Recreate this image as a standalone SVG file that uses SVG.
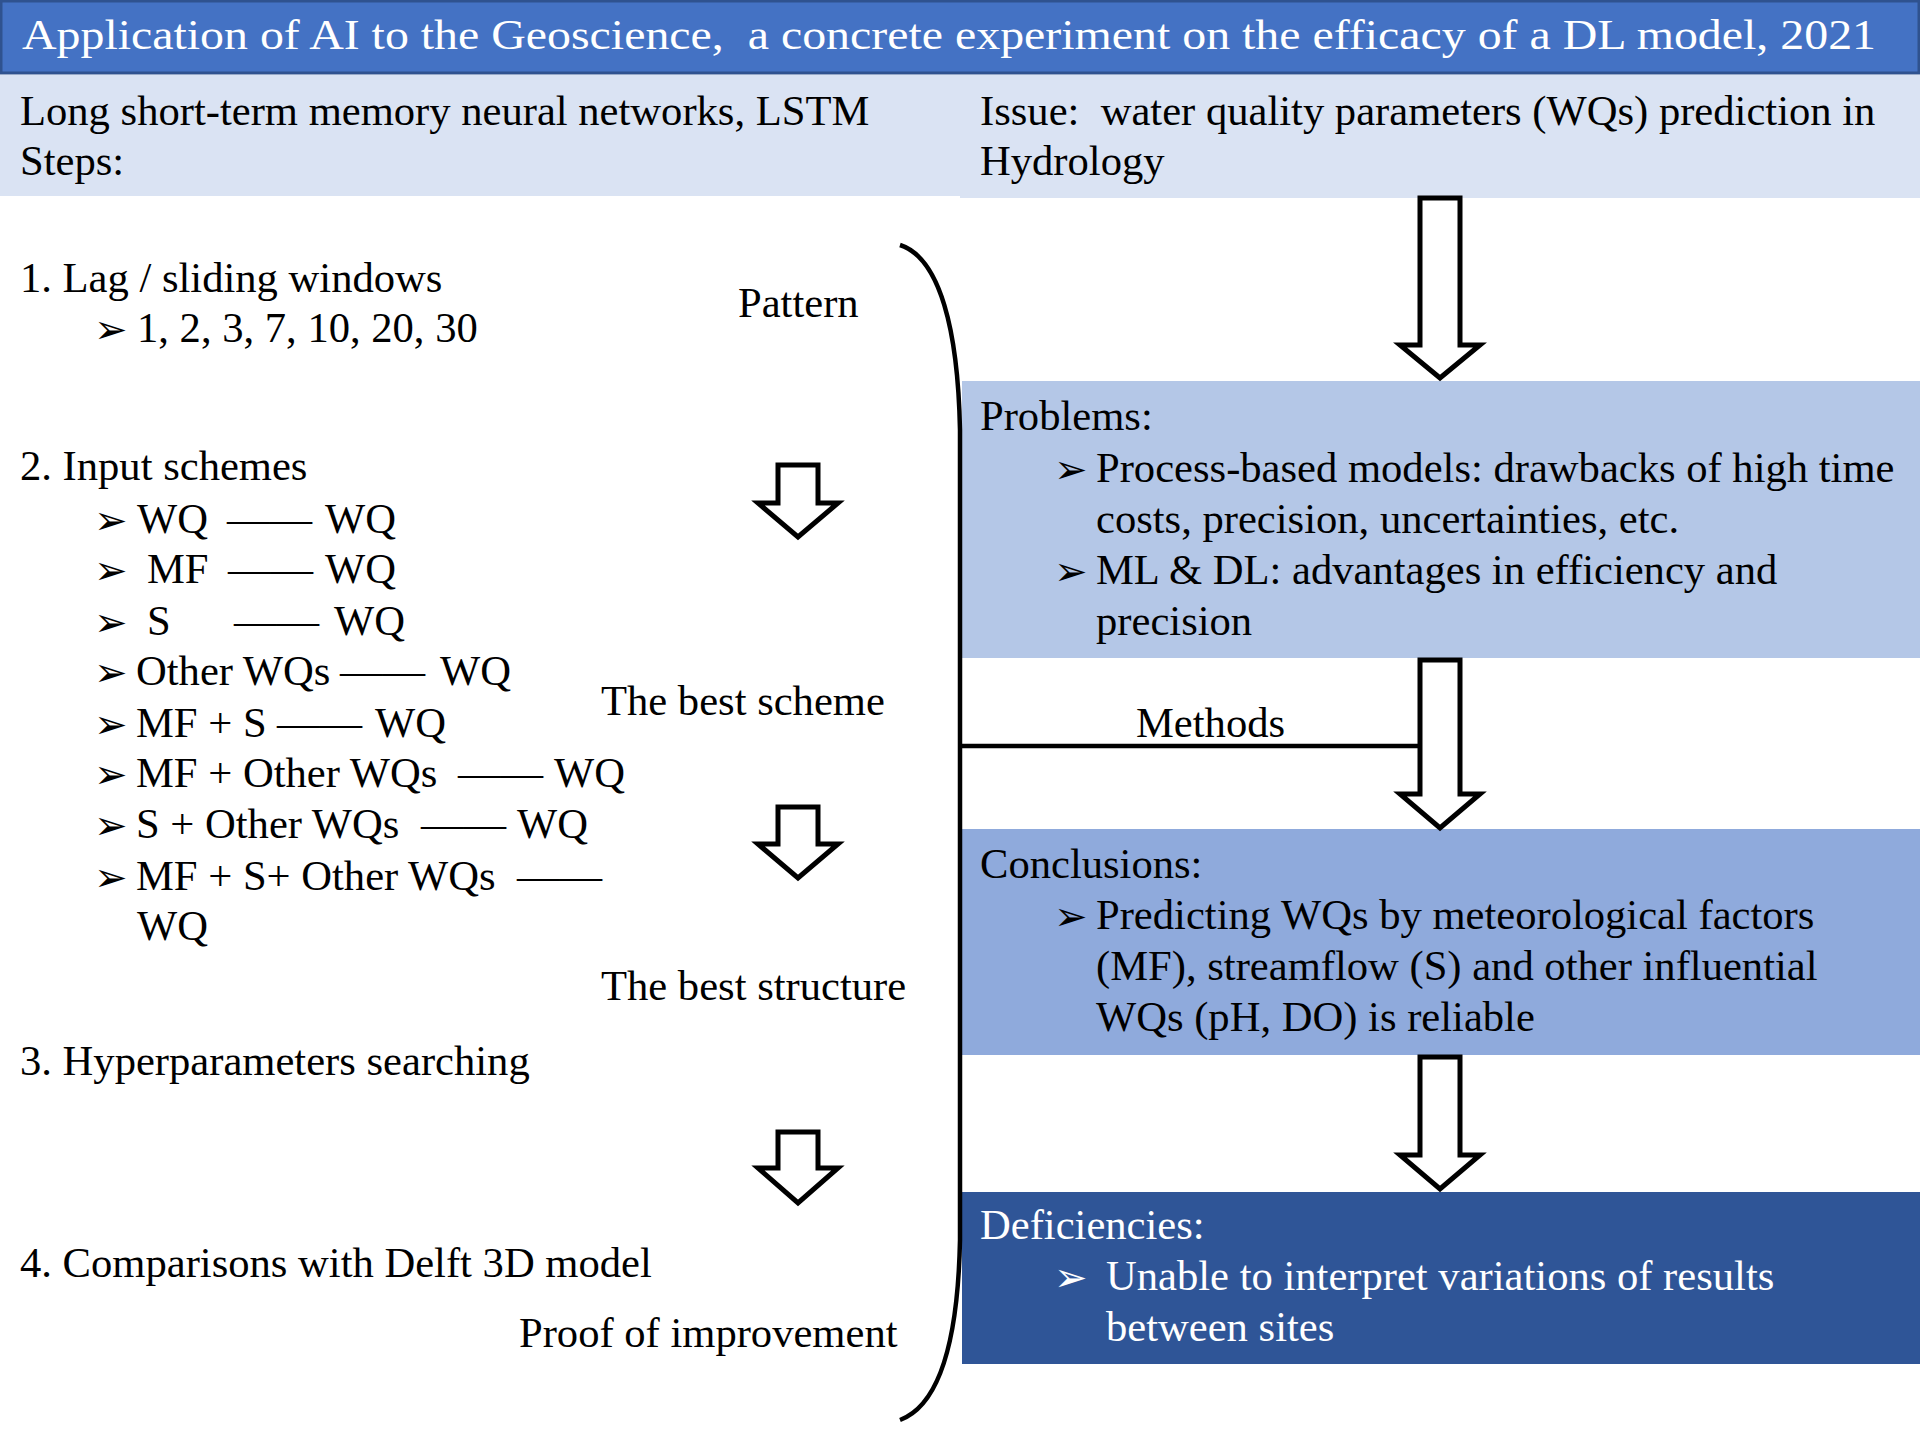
<svg xmlns="http://www.w3.org/2000/svg" width="1920" height="1440" viewBox="0 0 1920 1440">
<style>
.t{font-family:"Liberation Serif","Times New Roman",serif;font-size:42.6px;fill:#000}
.w{fill:#fff}
.b{font-family:"DejaVu Sans",sans-serif;font-size:40px;fill:#000}
.bw{fill:#fff}
.arr{fill:#fff;stroke:#000;stroke-width:5;stroke-linejoin:miter}
.ln{fill:none;stroke:#000;stroke-width:4.5}
</style>
<rect x="0" y="0" width="1920" height="1440" fill="#fff"/>
<g id="title">
<rect x="1" y="1" width="1918" height="72" fill="#4472C4" stroke="#2F528F" stroke-width="3"/>
<text class="t w" x="22" y="49" xml:space="preserve" textLength="1854" lengthAdjust="spacingAndGlyphs">Application of AI to the Geoscience,  a concrete experiment on the efficacy of a DL model, 2021</text>
</g>
<g id="method-header">
<rect x="0" y="75" width="960" height="121" fill="#DAE3F3"/>
<text class="t" x="20" y="125">Long short-term memory neural networks, LSTM</text>
<text class="t" x="20" y="175">Steps:</text>
</g>
<g id="issue">
<rect x="960" y="75" width="960" height="123" fill="#DAE3F3"/>
<text class="t" x="980" y="125" xml:space="preserve">Issue:  water quality parameters (WQs) prediction in</text>
<text class="t" x="980" y="175">Hydrology</text>
</g>
<g id="step1">
<text class="t" x="20" y="292">1. Lag / sliding windows</text>
<text class="b" x="94" y="343">➢</text>
<text class="t" x="137" y="342">1, 2, 3, 7, 10, 20, 30</text>
</g>
<g id="step2">
<text class="t" x="20" y="480">2. Input schemes</text>
<text class="b" x="94" y="534">➢</text><text class="t" y="533"><tspan x="137">WQ</tspan><tspan x="227">——</tspan><tspan x="325">WQ</tspan></text>
<text class="b" x="94" y="584">➢</text><text class="t" y="583"><tspan x="147">MF</tspan><tspan x="228">——</tspan><tspan x="325">WQ</tspan></text>
<text class="b" x="94" y="636">➢</text><text class="t" y="635"><tspan x="147">S</tspan><tspan x="234">——</tspan><tspan x="334">WQ</tspan></text>
<text class="b" x="94" y="686">➢</text><text class="t" y="685"><tspan x="136">Other WQs</tspan><tspan x="340">——</tspan><tspan x="440">WQ</tspan></text>
<text class="b" x="94" y="738">➢</text><text class="t" y="737"><tspan x="136">MF + S</tspan><tspan x="277">——</tspan><tspan x="375">WQ</tspan></text>
<text class="b" x="94" y="788">➢</text><text class="t" y="787"><tspan x="136">MF + Other WQs</tspan><tspan x="458">——</tspan><tspan x="554">WQ</tspan></text>
<text class="b" x="94" y="839">➢</text><text class="t" y="838"><tspan x="136">S + Other WQs</tspan><tspan x="421">——</tspan><tspan x="517">WQ</tspan></text>
<text class="b" x="94" y="891">➢</text><text class="t" y="890"><tspan x="136">MF + S+ Other WQs</tspan><tspan x="517">——</tspan></text>
<text class="t" x="137" y="940">WQ</text>
</g>
<g id="step3">
<text class="t" x="20" y="1075">3. Hyperparameters searching</text>
</g>
<g id="step4">
<text class="t" x="20" y="1277">4. Comparisons with Delft 3D model</text>
</g>
<g id="labels">
<text class="t" x="738" y="317">Pattern</text>
<text class="t" x="601" y="715">The best scheme</text>
<text class="t" x="601" y="1000">The best structure</text>
<text class="t" x="519" y="1347">Proof of improvement</text>
<text class="t" x="1136" y="737">Methods</text>
</g>
<g id="problems">
<rect x="962" y="381" width="958" height="277" fill="#B4C7E7"/>
<text class="t" x="980" y="430">Problems:</text>
<text class="b" x="1054" y="483">➢</text>
<text class="t" x="1096" y="482">Process-based models: drawbacks of high time</text>
<text class="t" x="1096" y="533">costs, precision, uncertainties, etc.</text>
<text class="b" x="1054" y="585">➢</text>
<text class="t" x="1096" y="584">ML &amp; DL: advantages in efficiency and</text>
<text class="t" x="1096" y="635">precision</text>
</g>
<g id="conclusions">
<rect x="962" y="829" width="958" height="226" fill="#8FAADC"/>
<text class="t" x="980" y="878">Conclusions:</text>
<text class="b" x="1054" y="930">➢</text>
<text class="t" x="1096" y="929">Predicting WQs by meteorological factors</text>
<text class="t" x="1096" y="980">(MF), streamflow (S) and other influential</text>
<text class="t" x="1096" y="1031">WQs (pH, DO) is reliable</text>
</g>
<g id="deficiencies">
<rect x="962" y="1192" width="958" height="172" fill="#2F5597"/>
<text class="t w" x="980" y="1239">Deficiencies:</text>
<text class="b bw" x="1054" y="1291">➢</text>
<text class="t w" x="1106" y="1290">Unable to interpret variations of results</text>
<text class="t w" x="1106" y="1341">between sites</text>
</g>
<g id="connectors">
<path class="ln" d="M900,245 C940,258 958,330 960,430 L960,1240 C958,1340 940,1405 900,1420"/>
<line class="ln" x1="960" y1="746" x2="1420" y2="746"/>
<polygon class="arr" points="1420,198 1460,198 1460,345 1480,345 1440,378 1400,345 1420,345"/>
<polygon class="arr" points="1420,660 1460,660 1460,794 1480,794 1440,828 1400,794 1420,794"/>
<polygon class="arr" points="1420,1057 1460,1057 1460,1155 1480,1155 1440,1189 1400,1155 1420,1155"/>
<polygon class="arr" points="778,465 818,465 818,503 838,503 798,537 758,503 778,503"/>
<polygon class="arr" points="778,807 818,807 818,844 838,844 798,878 758,844 778,844"/>
<polygon class="arr" points="778,1132 818,1132 818,1168 838,1168 798,1203 758,1168 778,1168"/>
</g>
</svg>
